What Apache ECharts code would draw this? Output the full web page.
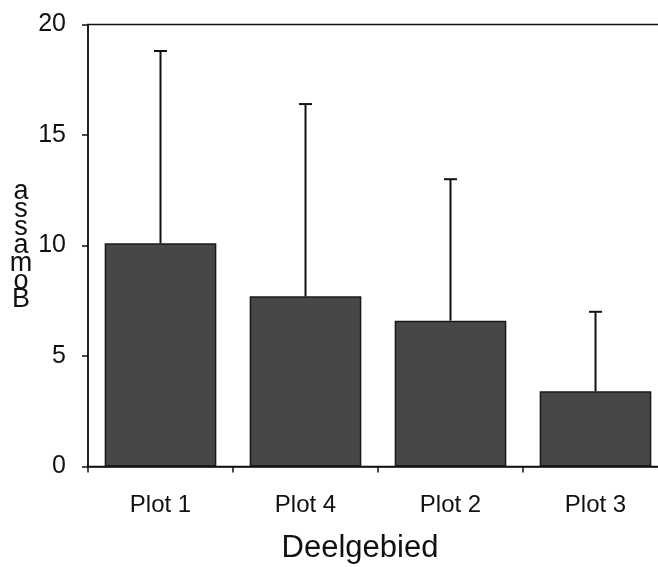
<!DOCTYPE html>
<html>
<head>
<meta charset="utf-8">
<script src="https://cdn.jsdelivr.net/npm/echarts@6/dist/echarts.min.js"></script>
<style>html,body{margin:0;padding:0;background:#fff;overflow:hidden;}#c{width:658px;height:567px;}</style>
</head>
<body>
<div id="c"></div>
<script>
var categories = ['Plot 1', 'Plot 4', 'Plot 2', 'Plot 3'];
var meanValues = [10.1, 7.7, 6.6, 3.4];
var upperValues = [18.8, 16.4, 13.0, 7.0];
var yTicks = [0, 5, 10, 15, 20];
var xTitle = 'Deelgebied';
var yTitle = 'a\ns\ns\na\nm\no\nB';

var chart = echarts.init(document.getElementById('c'), null, {renderer: 'canvas'});
var font = '"Liberation Sans", Arial, sans-serif';
chart.setOption({
  animation: false,
  backgroundColor: '#fff',
  grid: {left: 88, top: 24.5, height: 442, width: 580, outerBoundsMode: 'none', containLabel: false, show: true, borderColor: '#111', borderWidth: 1.5, backgroundColor: 'transparent'},
  xAxis: {
    type: 'category',
    data: categories,
    name: xTitle,
    nameLocation: 'middle',
    nameGap: 66,
    nameTextStyle: {fontFamily: font, fontSize: 31, color: '#111', padding: [0, 36, 0, 0]},
    axisLine: {lineStyle: {color: '#111', width: 1.5}},
    axisTick: {show: true, length: 6, lineStyle: {color: '#111', width: 1.5}},
    axisLabel: {fontFamily: font, fontSize: 24, color: '#111', margin: 27}
  },
  yAxis: {
    type: 'value',
    min: yTicks[0],
    max: yTicks[yTicks.length - 1],
    interval: yTicks[1] - yTicks[0],
    name: yTitle,
    nameLocation: 'middle',
    nameRotate: 0,
    nameGap: 58,
    nameTextStyle: {fontFamily: font, fontSize: 27, color: '#111', lineHeight: 18, align: 'center', verticalAlign: 'middle'},
    splitLine: {show: false},
    axisLine: {show: true, lineStyle: {color: '#111', width: 1.5}},
    axisTick: {show: true, length: 6, lineStyle: {color: '#111', width: 1.5}},
    axisLabel: {fontFamily: font, fontSize: 25, color: '#111', margin: 22}
  },
  series: [
    {
      type: 'bar',
      data: meanValues,
      barWidth: '77%',
      itemStyle: {color: '#474747', borderColor: '#1a1a1a', borderWidth: 1.5},
      z: 2
    },
    {
      type: 'custom',
      data: categories.map(function (c, i) { return [i, meanValues[i], upperValues[i]]; }),
      encode: {x: 0, y: [1, 2]},
      z: 3,
      renderItem: function (params, api) {
        var base = api.coord([api.value(0), api.value(1)]);
        var top = api.coord([api.value(0), api.value(2)]);
        var half = 6.5;
        var style = {stroke: '#111', lineWidth: 2};
        return {
          type: 'group',
          children: [
            {type: 'line', shape: {x1: base[0], y1: base[1], x2: top[0], y2: top[1]}, style: style},
            {type: 'line', shape: {x1: top[0] - half, y1: top[1], x2: top[0] + half, y2: top[1]}, style: style}
          ]
        };
      }
    }
  ]
});
</script>
</body>
</html>
